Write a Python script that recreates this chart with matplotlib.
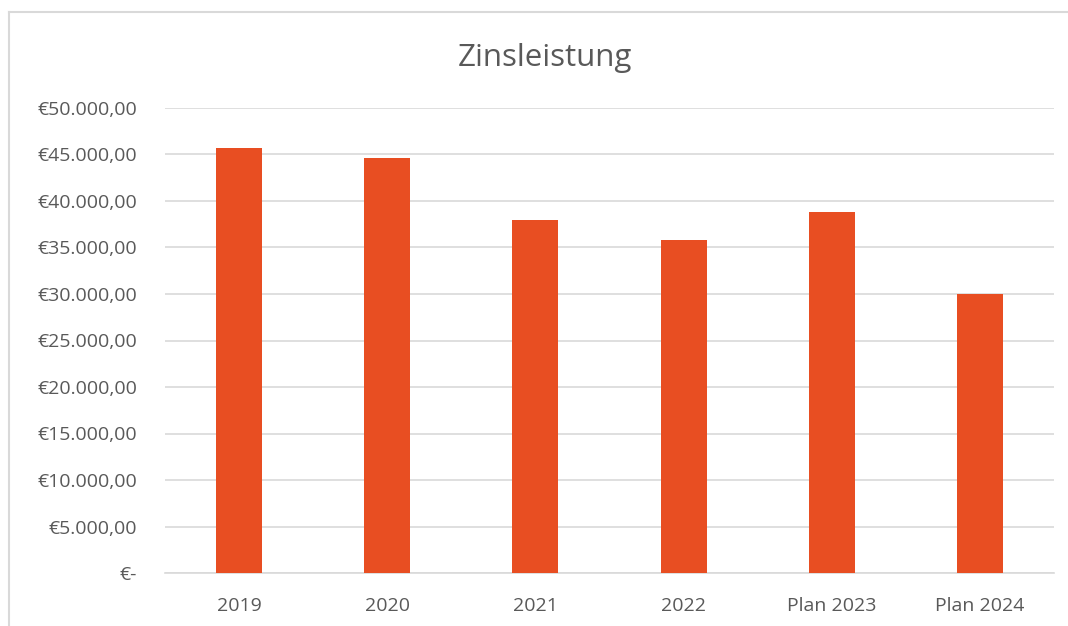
import matplotlib
matplotlib.use('Agg')
import matplotlib.pyplot as plt
from matplotlib.lines import Line2D
from matplotlib.ticker import FuncFormatter, MultipleLocator

# data
categories = ['2019', '2020', '2021', '2022', 'Plan 2023', 'Plan 2024']
values = [45700, 44650, 37950, 35800, 38800, 29950]

BAR = '#E84E22'
TEXT = '#595959'
GRID = '#D9D9D9'

plt.rcParams['font.family'] = ['Open Sans', 'DejaVu Sans']

fig = plt.figure(figsize=(10.68, 6.26), dpi=100)
fig.patch.set_facecolor('white')

# chart frame (only left and top edges visible, the rest is cropped)
W, H = 1068, 626
fig.add_artist(Line2D([8.5 / W, 8.5 / W], [0, 1 - 11.5 / H], color='#D9D9D9', lw=1.5,
                      transform=fig.transFigure))
fig.add_artist(Line2D([8.5 / W, 1], [1 - 11.5 / H, 1 - 11.5 / H], color='#D9D9D9', lw=1.5,
                      transform=fig.transFigure))

ax = fig.add_axes([165 / W, 1 - 573 / H, (1054 - 165) / W, (573 - 108) / H])
x = range(len(categories))
ax.bar(x, values, width=0.31, color=BAR, zorder=3)

ax.set_ylim(0, 50000)
ax.set_xlim(-0.5, len(categories) - 0.5)
ax.yaxis.set_major_locator(MultipleLocator(5000))


def euro(v, pos):
    if v == 0:
        return '€-'
    s = f'{v:,.2f}'.replace(',', 'X').replace('.', ',').replace('X', '.')
    return '€' + s


ax.yaxis.set_major_formatter(FuncFormatter(euro))
ax.set_xticks(list(x))
ax.set_xticklabels(categories)
ax.grid(axis='y', color=GRID, lw=1.2, zorder=0)
for s in ['top', 'right', 'left']:
    ax.spines[s].set_visible(False)
ax.spines['bottom'].set_color(GRID)
ax.spines['bottom'].set_linewidth(1.2)
ax.tick_params(axis='both', length=0, labelsize=14, colors=TEXT)
ax.tick_params(axis='y', pad=20)
ax.tick_params(axis='x', pad=17)

fig.text(545 / W, 1 - 66 / H, 'Zinsleistung', ha='center', va='baseline',
         fontsize=22.5, color=TEXT)

fig.savefig('out.png', dpi=100, facecolor='white')
